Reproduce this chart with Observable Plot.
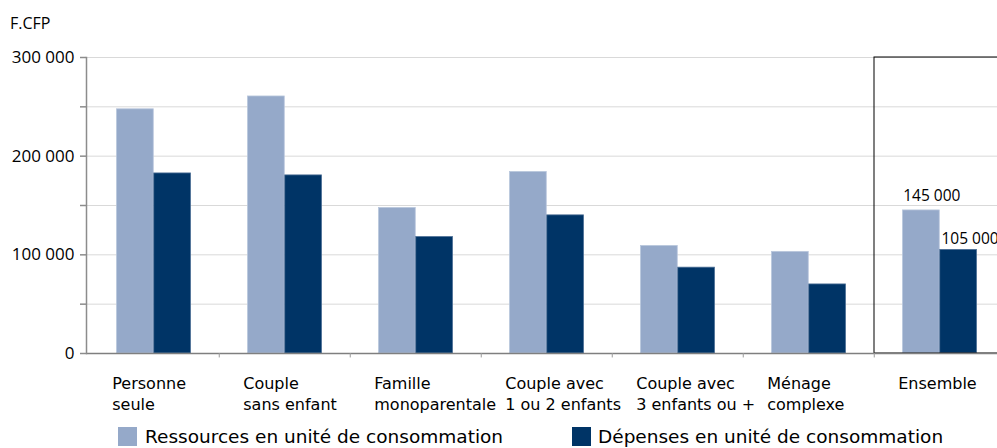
<!DOCTYPE html>
<html>
<head>
<meta charset="utf-8">
<script src="https://cdn.jsdelivr.net/npm/d3@7"></script>
<script src="https://cdn.jsdelivr.net/npm/@observablehq/plot@0.6"></script>
<style>
  body { margin: 0; background: white; font-family: "DejaVu Sans", sans-serif; }
  #wrap { position: relative; width: 997px; height: 448px; overflow: hidden; }
  #unit { position: absolute; left: 10px; top: 15px; font-family: "Open Sans", sans-serif; font-size: 16px; line-height: 16px; color: #000; }
  #chart { position: absolute; left: 0; top: 40px; }
  .lg-sw { position: absolute; top: 427px; width: 19px; height: 19px; }
  .lg-tx { position: absolute; top: 428px; font-size: 18.5px; line-height: 18.5px; color: #000; white-space: nowrap; }
</style>
</head>
<body>
<div id="wrap">
  <div id="unit">F.CFP</div>
  <div id="chart"></div>
  <div class="lg-sw" style="left:118px;background:#95a9c9"></div>
  <div class="lg-tx" style="left:145px">Ressources en unité de consommation</div>
  <div class="lg-sw" style="left:572px;background:#003466"></div>
  <div class="lg-tx" style="left:598px">Dépenses en unité de consommation</div>
</div>
<script>
const categories = [
  "Personne\nseule",
  "Couple\nsans enfant",
  "Famille\nmonoparentale",
  "Couple avec\n1 ou 2 enfants",
  "Couple avec\n3 enfants ou +",
  "Ménage\ncomplexe",
  "Ensemble"
];
const ressources = [247500, 260500, 147500, 184000, 109000, 103000, 145000];
const depenses   = [182500, 180500, 118000, 140000, 87000, 70000, 105000];
const yTicks = [0, 50000, 100000, 150000, 200000, 250000, 300000];
const ensembleLabels = ["145 000", "105 000"];

const data = categories.map((c, i) => ({cat: c, r: ressources[i], d: depenses[i]}));
const ens = data[data.length - 1];

const x0 = 86, step = 131.5;
const barW = 37.25, outer = 28.5;
const inner = step - outer - barW;

const fmt = v => v % 100000 ? "" : d3.format(",")(v).replace(/,/g, " ");

const chart = Plot.plot({
  width: 997,
  height: 380,
  marginTop: 17,
  marginBottom: 67,
  marginLeft: 86,
  marginRight: 0,
  style: {fontFamily: "DejaVu Sans, sans-serif", fontSize: "15px", color: "#000", background: "white"},
  x: {domain: categories, range: [x0, x0 + step * categories.length], padding: 0, axis: null},
  y: {domain: [0, 300000], axis: null},
  marks: [
    Plot.ruleY(yTicks.slice(1), {stroke: "#d9d9d9", strokeWidth: 1}),
    Plot.barY(data, {x: "cat", y: "r", fill: "#95a9c9", stroke: "#b9c7dc", strokeWidth: 0.8,
      insetLeft: outer, insetRight: inner}),
    Plot.barY(data, {x: "cat", y: "d", fill: "#003466", stroke: "#4d6f96", strokeWidth: 0.8,
      insetLeft: inner, insetRight: outer}),
    Plot.rect([ens], {x: "cat", y1: 0, y2: 300000, fill: "none", stroke: "#000", strokeWidth: 1}),
    Plot.text([ens], {x: "cat", y: "r", text: () => ensembleLabels[0], textAnchor: "start",
      lineAnchor: "bottom", dx: -barW + 0.5, dy: -9, fontSize: 15.5, fontFamily: "Open Sans, sans-serif", fill: "#000"}),
    Plot.text([ens], {x: "cat", y: "d", text: () => ensembleLabels[1], textAnchor: "start",
      lineAnchor: "bottom", dx: 1.5, dy: -6, fontSize: 15.5, fontFamily: "Open Sans, sans-serif", fill: "#000"}),
    Plot.ruleY([0], {stroke: "#7f7f7f", strokeWidth: 1.5}),
    Plot.ruleX(categories.slice(1), {x: d => d, y1: 0, y2: -4500, dx: -step / 2, stroke: "#9a9a9a", strokeWidth: 1}),
    Plot.frame({anchor: "left", stroke: "#8c8c8c", strokeWidth: 1.5}),
    Plot.axisY({ticks: yTicks, tickFormat: fmt, tickSize: 6, tickPadding: 6, stroke: "#8c8c8c",
      strokeWidth: 1.5, fontSize: 17, fontFamily: "Open Sans, sans-serif", fill: "#000", anchor: "left"}),
    Plot.text(categories, {x: d => d, text: d => d, frameAnchor: "bottom", dy: 20,
      dx: -step / 2 + 24, textAnchor: "start", lineAnchor: "top", lineHeight: 1.35,
      fontSize: 16, fill: "#000"})
  ]
});
document.getElementById("chart").appendChild(chart);
</script>
</body>
</html>
